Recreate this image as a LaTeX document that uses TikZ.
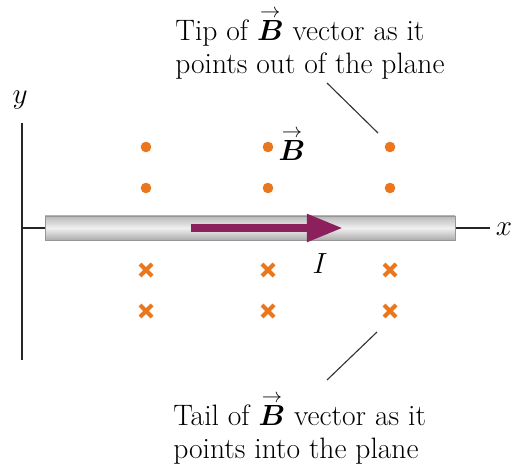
\documentclass[tikz,border=0pt]{standalone}
\usepackage{amsmath,bm}
\usetikzlibrary{arrows.meta,calc}
\definecolor{dotorange}{RGB}{236,118,28}
\definecolor{plum}{RGB}{140,32,92}
\definecolor{rodgray}{RGB}{150,150,150}
\newcommand{\fieldB}{\overset{\raisebox{-0.5ex}{$\scriptstyle\rightarrow$}}{\bm B}}
\tikzset{
  axis/.style={line width=1.6pt,draw=black!85},
  lbl/.style={font=\fontsize{21}{23.5}\selectfont,inner sep=0pt},
  note/.style={lbl,align=left,anchor=north west},
  leader/.style={draw=black!80,line width=0.8pt},
  outdot/.style={fill=dotorange},
  incross/.style={draw=dotorange,line width=2.8pt},
  rod/.style={draw=rodgray,line width=0.6pt,top color=gray!55,bottom color=gray!65,middle color=gray!12},
  current/.style={draw=plum,line width=5.6pt,-{Triangle[length=9mm,width=6.5mm]}}
}
\begin{document}
\begin{tikzpicture}[x=0.025cm,y=-0.025cm]
  \useasboundingbox (0,0) rectangle (512,465);
  % axes
  \draw[axis] (22,123) -- (22,360);
  \draw[axis] (22,228) -- (490,228);
  \node[lbl] (ylab) at (20,100) {$y$};
  \node[lbl] (xlab) at (504,229) {$x$};
  % wire with the current
  \draw[rod] (45,216) rectangle (455,240);
  \coordinate (cstart) at (191,228);
  \coordinate (cend) at (343,228);
  \draw[current] (cstart) -- (cend);
  \node[lbl] (ilab) at (320,264) {$I$};
  % field: out of the plane above, into the plane below
  \foreach \x [count=\i] in {146,268,390}{
    \foreach \y [count=\j] in {147,188}{
      \coordinate (d\i\j) at (\x,\y);
      \fill[outdot] (d\i\j) circle (5.3);
    }
    \foreach \y [count=\j] in {270,311}{
      \coordinate (c\i\j) at (\x,\y);
      \draw[incross] ($(c\i\j)+(-6,-6)$) -- ($(c\i\j)+(6,6)$) ($(c\i\j)+(-6,6)$) -- ($(c\i\j)+(6,-6)$);
    }
  }
  \node[lbl] (blab) at (292,144) {$\fieldB$};
  % notes
  \node[note] (tip) at (175,7) {Tip of $\fieldB$ vector as it\\points out of the plane};
  \node[note] (tail) at (173,392) {Tail of $\fieldB$ vector as it\\points into the plane};
  \coordinate (tipa) at (327,83);
  \coordinate (tipb) at (378,133);
  \coordinate (taila) at (377,332);
  \coordinate (tailb) at (327,380);
  \draw[leader] (tipa) -- (tipb);
  \draw[leader] (taila) -- (tailb);
\end{tikzpicture}
\end{document}
